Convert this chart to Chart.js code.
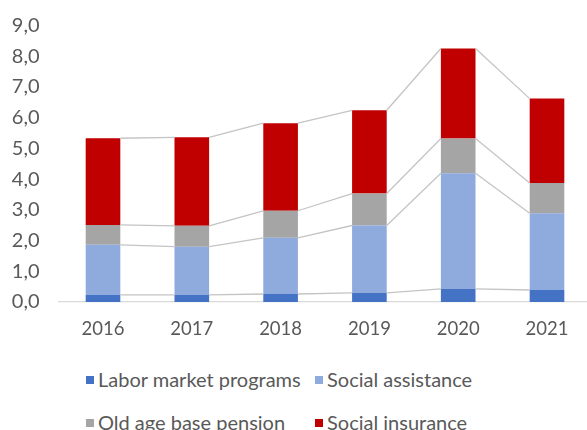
<!DOCTYPE html>
<html>
<head>
<meta charset="utf-8">
<script src="https://cdn.jsdelivr.net/npm/chart.js@4.4.1/dist/chart.umd.min.js"></script>
<style>
  html, body { margin: 0; padding: 0; background: #fff; }
  body { width: 587px; height: 430px; overflow: hidden; position: relative; font-family: Lato, "Open Sans", sans-serif; }
  #wrap { position: absolute; left: 0; top: 0; width: 600px; height: 350px; }
  #legend { position: absolute; left: 86px; top: 368px; display: grid; grid-template-columns: 229px auto; row-gap: 20px; color: #595959; font-size: 20px; line-height: 23px; }
  #legend .item { display: flex; align-items: center; white-space: nowrap; }
  #legend .box { width: 8px; height: 8px; margin-right: 4px; flex: none; }
</style>
</head>
<body>
<div id="wrap"><canvas id="chart" width="600" height="350"></canvas></div>
<div id="legend"></div>
<script>
const years = ['2016', '2017', '2018', '2019', '2020', '2021'];
const laborMarket = [0.23, 0.23, 0.26, 0.30, 0.43, 0.39];
const socialAssistance = [1.63, 1.57, 1.83, 2.19, 3.76, 2.50];
const oldAgePension = [0.65, 0.68, 0.88, 1.04, 1.13, 0.98];
const socialInsurance = [2.82, 2.88, 2.85, 2.71, 2.93, 2.75];
const yTicks = [0, 1, 2, 3, 4, 5, 6, 7, 8, 9];

const seriesNames = ['Labor market programs', 'Social assistance', 'Old age base pension', 'Social insurance'];
const seriesColors = ['#4472C4', '#8FAADC', '#A5A5A5', '#C00000'];
const seriesData = [laborMarket, socialAssistance, oldAgePension, socialInsurance];

const textColor = '#595959';

// Excel-style series lines joining the top of each stacked segment
const seriesLines = {
  id: 'seriesLines',
  afterDatasetsDraw(chart) {
    const ctx = chart.ctx;
    ctx.save();
    ctx.strokeStyle = '#c4c4c4';
    ctx.lineWidth = 1.3;
    chart.data.datasets.forEach((ds, i) => {
      const bars = chart.getDatasetMeta(i).data;
      for (let k = 0; k < bars.length - 1; k++) {
        const a = bars[k], b = bars[k + 1];
        ctx.beginPath();
        ctx.moveTo(a.x + a.width / 2, a.y);
        ctx.lineTo(b.x - b.width / 2, b.y);
        ctx.stroke();
      }
    });
    ctx.restore();
  }
};

new Chart(document.getElementById('chart'), {
  type: 'bar',
  data: {
    labels: years,
    datasets: seriesData.map((d, i) => ({
      label: seriesNames[i],
      data: d,
      backgroundColor: seriesColors[i],
      barPercentage: 0.39,
      categoryPercentage: 1
    }))
  },
  options: {
    responsive: false,
    animation: false,
    layout: { padding: { top: 25.5, right: 8.6, left: 0, bottom: 0 } },
    plugins: { legend: { display: false }, tooltip: { enabled: false } },
    scales: {
      x: {
        stacked: true,
        grid: { display: false, drawTicks: false, tickLength: 0 },
        border: { display: true, color: '#d9d9d9', width: 1.3 },
        ticks: { color: textColor, font: { family: 'Lato', size: 18.5 }, padding: 16 },
        afterFit(scale) { scale.height = 48; }
      },
      y: {
        stacked: true,
        min: 0,
        max: 9,
        afterBuildTicks(scale) { scale.ticks = yTicks.map(v => ({ value: v })); },
        grid: { display: false, drawTicks: false, tickLength: 0 },
        border: { display: false },
        ticks: {
          color: textColor,
          font: { family: 'Lato', size: 20 },
          padding: 19,
          callback: v => v.toFixed(1).replace('.', ',')
        },
        afterFit(scale) {
          scale.width = 58.6;
          scale.paddingTop = 0;
          scale.paddingBottom = 0;
        }
      }
    }
  },
  plugins: [seriesLines]
});

const legend = document.getElementById('legend');
seriesNames.forEach((name, i) => {
  const item = document.createElement('div');
  item.className = 'item';
  const box = document.createElement('span');
  box.className = 'box';
  box.style.background = seriesColors[i];
  const label = document.createElement('span');
  label.textContent = name;
  item.appendChild(box);
  item.appendChild(label);
  legend.appendChild(item);
});
</script>
</body>
</html>
